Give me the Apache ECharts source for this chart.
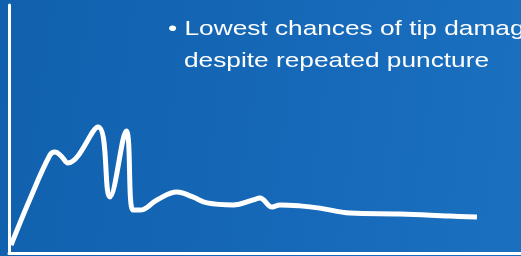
<!DOCTYPE html>
<html>
<head>
<meta charset="utf-8">
<script src="https://cdn.jsdelivr.net/npm/echarts@6/dist/echarts.min.js"></script>
<style>
  html, body { margin: 0; padding: 0; }
  #chart { width: 521px; height: 256px; }
</style>
</head>
<body>
<div id="chart"></div>
<script>
// curve (x: 0-100 along the axis, y: 0-100 up the axis)
var xValues = [0.4, 4.1, 8.0, 9.0, 10.2, 11.5, 17.4, 19.7, 22.9, 24.2, 25.6, 28.9, 32.8, 35.9, 38.7, 43.8, 47.7, 49.0, 51.4, 52.9, 56.8, 60.7, 66.6, 76.4, 86.1, 91.4];
var yValues = [3.2, 21.8, 39.5, 40.7, 39.1, 36.3, 50.8, 22.6, 49.2, 17.3, 17.3, 21.4, 24.6, 22.6, 20.2, 19.4, 21.4, 22.2, 18.5, 19.4, 19.0, 18.1, 16.1, 15.7, 14.9, 14.5];
var textLines = ["\u2022 Lowest chances of tip damag", "despite repeated puncture"];

var chartDom = document.getElementById("chart");
var myChart = echarts.init(chartDom);

var points = xValues.map(function (x, i) { return [x, yValues[i]]; });

var option = {
    animation: false,
    backgroundColor: new echarts.graphic.LinearGradient(0, 0, 1, 0.3, [
        { offset: 0, color: "#1060ad" },
        { offset: 1, color: "#1a6fbf" }
    ]),
    grid: { left: 9, right: 0, top: 5, bottom: 3 },
    xAxis: {
        type: "value",
        min: 0,
        max: 100,
        axisLine: { show: true, lineStyle: { color: "#ffffff", width: 3 } },
        axisTick: { show: false },
        axisLabel: { show: false },
        splitLine: { show: false }
    },
    yAxis: {
        type: "value",
        min: 0,
        max: 100,
        axisLine: { show: true, lineStyle: { color: "#ffffff", width: 3 } },
        axisTick: { show: false },
        axisLabel: { show: false },
        splitLine: { show: false }
    },
    series: [{
        type: "line",
        data: points,
        smooth: 0.4,
        symbol: "none",
        lineStyle: { color: "#ffffff", width: 5 }
    }],
    graphic: [
        {
            type: "text",
            x: 168,
            y: 29,
            scaleX: 1.25,
            style: {
                text: textLines[0],
                font: "21px 'Liberation Sans', Arial, sans-serif",
                fill: "#ffffff",
                textVerticalAlign: "middle"
            }
        },
        {
            type: "text",
            x: 184,
            y: 61,
            scaleX: 1.25,
            style: {
                text: textLines[1],
                font: "21px 'Liberation Sans', Arial, sans-serif",
                fill: "#ffffff",
                textVerticalAlign: "middle"
            }
        }
    ]
};
myChart.setOption(option);
</script>
</body>
</html>
